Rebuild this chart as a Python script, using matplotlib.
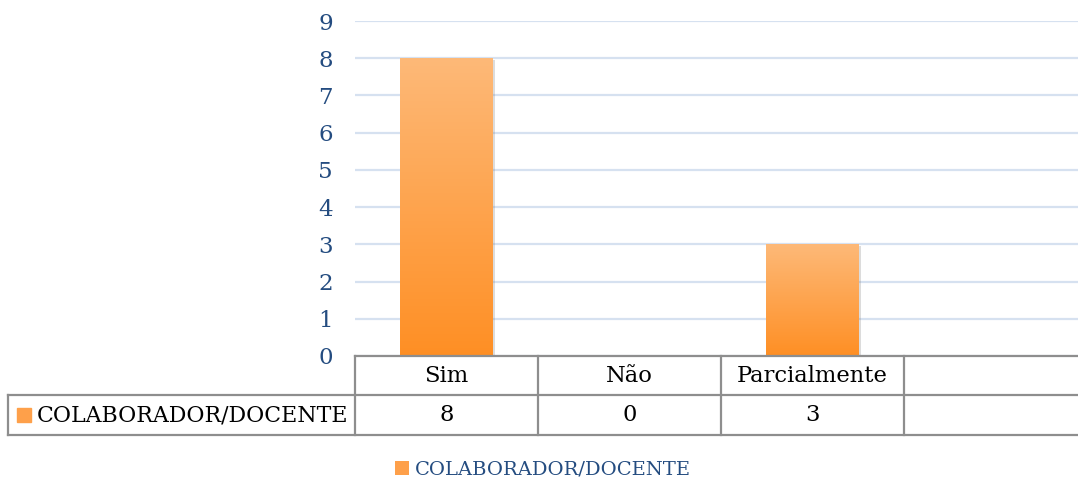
import numpy as np
import matplotlib.pyplot as plt
from matplotlib import transforms
from matplotlib.colors import LinearSegmentedColormap
from matplotlib.patches import Patch
import matplotlib.patheffects as pe

categorias = ["Sim", "Não", "Parcialmente", ""]
valores = [8, 0, 3, np.nan]
serie = "COLABORADOR/DOCENTE"
yticks = list(range(0, 10))

plt.rcParams['font.family'] = ['DejaVu Serif']

azul = '#244C80'
laranja = LinearSegmentedColormap.from_list('laranja', ['#FF8F24', '#FDB978'])
cinza = '#8E8E8E'

fig = plt.figure(figsize=(10.78, 4.83), dpi=100)
# plot area runs a little past the right edge of the canvas
larg = 732
ax = fig.add_axes([355 / 1078, 1 - 356 / 483, larg / 1078, 335 / 483])

x = np.arange(len(categorias))
barras = ax.bar(x, valores, width=0.508, color='#FDA650', zorder=3,
                path_effects=[pe.SimplePatchShadow(offset=(1.5, -1.5), shadow_rgbFace='#777777', alpha=0.25),
                              pe.Normal()])

# gradient fill clipped to each bar
grad = np.linspace(0, 1, 256).reshape(-1, 1)
for b in barras:
    h = b.get_height()
    if not np.isfinite(h) or h <= 0:
        continue
    x0 = b.get_x()
    img = ax.imshow(grad, extent=[x0, x0 + b.get_width(), 0, h], origin='lower',
                    cmap=laranja, aspect='auto', zorder=4)
    img.set_clip_path(b)

ax.set_xlim(-0.5, len(categorias) - 0.5)
ax.set_ylim(0, 9)
ax.set_yticks(yticks)
ax.set_xticks([])
ax.yaxis.grid(True, color='#D6E1F0', linewidth=1.6, zorder=0)
ax.set_axisbelow(True)
for s in ax.spines.values():
    s.set_visible(False)
ax.tick_params(axis='y', length=0, pad=16, labelsize=16.5, labelcolor=azul)

# data table under the axis
trans = transforms.blended_transform_factory(ax.transData, ax.transAxes)
h1 = 39 / 335
h2 = 40 / 335
esq = -347 / larg
lw = 1.6
kw = dict(color=cinza, linewidth=lw, clip_on=False, zorder=5)

ax.plot([0, 1], [0, 0], transform=ax.transAxes, **kw)
ax.plot([esq, 1], [-h1, -h1], transform=ax.transAxes, **kw)
ax.plot([esq, 1], [-h1 - h2, -h1 - h2], transform=ax.transAxes, **kw)
ax.plot([esq, esq], [-h1, -h1 - h2], transform=ax.transAxes, **kw)
for xv in np.arange(len(categorias)) - 0.5:
    ax.plot([xv, xv], [0, -h1 - h2], transform=trans, **kw)

for xi, (cat, v) in enumerate(zip(categorias, valores)):
    ax.text(xi, -h1 / 2, cat, transform=trans, ha='center', va='center',
            fontsize=16.3, color='black')
    txt = '' if not np.isfinite(v) else f'{v:g}'
    ax.text(xi, -h1 - h2 / 2, txt, transform=trans, ha='center', va='center',
            fontsize=16.3, color='black')

ax.plot([esq + 16 / larg], [-h1 - h2 / 2], marker='s', markersize=10, color='#FEA04A',
        transform=ax.transAxes, clip_on=False, zorder=6)
ax.text(esq + 29 / larg, -h1 - h2 / 2, serie, transform=ax.transAxes, ha='left', va='center',
        fontsize=15.8, color='black')

leg = ax.legend(handles=[Patch(facecolor='#FEA04A', label=serie)], loc='center',
                bbox_to_anchor=(543 / 1078, 1 - 470 / 483), bbox_transform=fig.transFigure,
                frameon=False, fontsize=14, handlelength=0.7, handleheight=0.7,
                handletextpad=0.3)
for t in leg.get_texts():
    t.set_color(azul)

fig.savefig('out.png', dpi=100)
